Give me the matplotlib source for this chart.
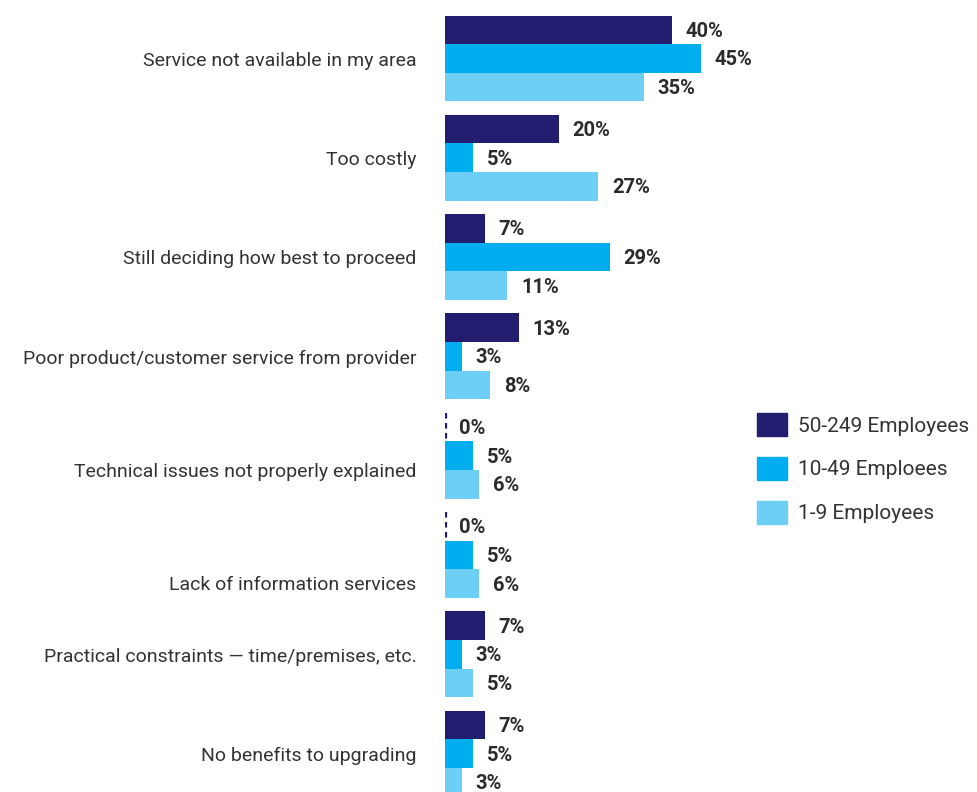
import matplotlib.pyplot as plt
from matplotlib.patches import Patch
import numpy as np

plt.rcParams['font.family'] = ['Roboto', 'DejaVu Sans']

# reasons for not upgrading, by business size (%)
reasons = ['Service not available in my area',
           'Too costly',
           'Still deciding how best to proceed',
           'Poor product/customer service from provider',
           'Technical issues not properly explained',
           'Lack of information services',
           'Practical constraints \u2014 time/premises, etc.',
           'No benefits to upgrading']
emp_50_249 = [40, 20, 7, 13, 0, 0, 7, 7]
emp_10_49 = [45, 5, 29, 3, 5, 5, 3, 5]
emp_1_9 = [35, 27, 11, 8, 6, 6, 5, 3]
series_names = ['50-249 Employees', '10-49 Emploees', '1-9 Employees']
colors = ['#231d6f', '#00adee', '#6dcff6']

fig = plt.figure(figsize=(9.77, 7.92), dpi=100)
W, H = 977, 792
ax = fig.add_axes([445 / W, 0, 1 - 445 / W, 1])

unit = 28.6                    # bar height in pixels
px_per_pct = 5.68
ax.set_xlim(0, (W - 445) / px_per_pct)
ax.set_ylim(H / unit, 0)

centers = 2.045 + np.arange(len(reasons)) * 3.472
label_shift = [0, 0, 0, 0, 0.49, 0.98, 0, 0]

for k, vals in enumerate([emp_50_249, emp_10_49, emp_1_9]):
    ys = centers + (k - 1)
    ax.barh(ys, vals, height=1.0, color=colors[k], label=series_names[k])
    for y, v in zip(ys, vals):
        if v == 0:
            ax.vlines(0.12, y - 0.5, y + 0.5, colors=colors[k], linestyles=(0, (2.5, 2)), lw=1.6)
        ax.text(v + 2.4, y + 0.05, '%d%%' % v, va='center', ha='left',
                fontsize=14.5, fontweight='bold', color='#2b2b2b')

for c, s, name in zip(centers, label_shift, reasons):
    ax.text(-5, c + s + 0.08, name, ha='right', va='center', fontsize=14,
            color='#333333', clip_on=False)

ax.axis('off')

handles = [Patch(color=c) for c in colors]
fig.legend(handles, series_names, loc='upper left',
           bbox_to_anchor=(757 / W, 1 - 413 / H), frameon=False,
           fontsize=15, handlelength=1.45, handleheight=1.35,
           handletextpad=0.5, labelspacing=0.98, borderpad=0,
           borderaxespad=0, labelcolor='#333333')

plt.savefig('out.png', dpi=100)
